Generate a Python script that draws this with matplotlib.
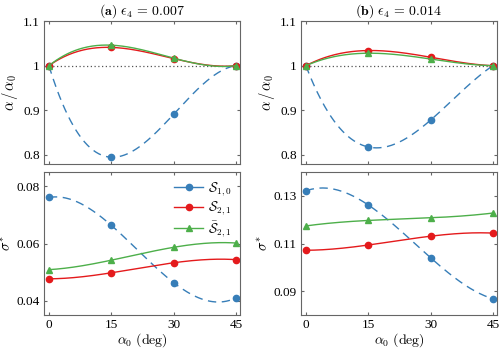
import numpy as np
import matplotlib
matplotlib.use('Agg')
import matplotlib.pyplot as plt

plt.rcParams['font.family'] = ['Liberation Serif', 'DejaVu Serif']
plt.rcParams['mathtext.fontset'] = 'cm'
plt.rcParams['font.size'] = 9.5

alpha0 = [0, 15, 30, 45]

# (a) eps4 = 0.007
ratio_s10_a = [1.0, 0.795, 0.891, 1.0]
ratio_s21_a = [1.0, 1.041, 1.016, 1.0]
ratio_sb21_a = [1.0, 1.046, 1.017, 1.0]
sig_s10_a = [0.0761, 0.0664, 0.0464, 0.0410]
sig_s21_a = [0.0477, 0.0498, 0.0533, 0.0544]
sig_sb21_a = [0.0509, 0.0542, 0.0587, 0.0602]

# (b) eps4 = 0.014
ratio_s10_b = [1.0, 0.818, 0.878, 1.0]
ratio_s21_b = [1.0, 1.034, 1.019, 1.0]
ratio_sb21_b = [1.0, 1.028, 1.015, 1.0]
sig_s10_b = [0.1321, 0.1262, 0.1041, 0.0869]
sig_s21_b = [0.1072, 0.1094, 0.1131, 0.1144]
sig_sb21_b = [0.1174, 0.1197, 0.1208, 0.1228]

titles = [r'$\mathbf{(a)}\ \epsilon_4\,=\,0.007$', r'$\mathbf{(b)}\ \epsilon_4\,=\,0.014$']
labels = [r'$\mathcal{S}_{1,0}$', r'$\mathcal{S}_{2,1}$', r'$\bar{\mathcal{S}}_{2,1}$']

BLUE = '#377EB8'
RED = '#E41A1C'
GREEN = '#4DAF4A'
AXC = '#666666'


def curve(ax, y, color, ls, marker, label=None):
    c = np.polyfit(alpha0, y, 3)
    xs = np.linspace(0, 45, 200)
    ax.plot(xs, np.polyval(c, xs), color=color, ls=ls, lw=1.0,
            dashes=(6, 4) if ls == '--' else (None, None))
    ax.plot(alpha0, y, color=color, ls='none', marker=marker, ms=4.5)
    if label:
        ax.plot([], [], color=color, marker=marker, ms=4.5, lw=1.0, label=label)


def style(ax):
    for s in ax.spines.values():
        s.set_color(AXC)
        s.set_linewidth(0.8)
    ax.tick_params(direction='in', top=True, right=True, length=2.5,
                   color=AXC, labelsize=9.5, pad=3)
    ax.set_xlim(-1.2, 46)
    ax.set_xticks(alpha0)


fig = plt.figure(figsize=(4.99, 3.51), dpi=100)
lefts = [0.088, 0.603]
w = 0.393
data = [
    (ratio_s10_a, ratio_s21_a, ratio_sb21_a, sig_s10_a, sig_s21_a, sig_sb21_a,
     (0.035, 0.085), [0.04, 0.06, 0.08]),
    (ratio_s10_b, ratio_s21_b, ratio_sb21_b, sig_s10_b, sig_s21_b, sig_sb21_b,
     (0.08, 0.14), [0.09, 0.11, 0.13]),
]

for i, (r10, r21, rb21, s10, s21, sb21, ylim, yt) in enumerate(data):
    ax1 = fig.add_axes([lefts[i], 0.533, w, 0.407])
    ax2 = fig.add_axes([lefts[i], 0.102, w, 0.408])

    ax1.plot([0, 45], [1, 1], color='#555555', ls=(0, (1, 2)), lw=0.9)
    curve(ax1, r10, BLUE, '--', 'o')
    curve(ax1, r21, RED, '-', 'o')
    curve(ax1, rb21, GREEN, '-', '^')
    style(ax1)
    ax1.set_ylim(0.78, 1.1)
    ax1.set_yticks([0.8, 0.9, 1.0, 1.1])
    ax1.set_yticklabels(['0.8', '0.9', '1', '1.1'])
    ax1.set_xticklabels([])
    ax1.set_ylabel(r'$\alpha\,/\,\alpha_0$', fontsize=10.5, labelpad=2)
    ax1.set_title(titles[i], fontsize=10, pad=5)

    lab = labels if i == 0 else [None, None, None]
    curve(ax2, s10, BLUE, '--', 'o', lab[0])
    curve(ax2, s21, RED, '-', 'o', lab[1])
    curve(ax2, sb21, GREEN, '-', '^', lab[2])
    style(ax2)
    ax2.set_ylim(*ylim)
    ax2.set_yticks(yt)
    ax2.set_yticklabels(['%.2f' % v for v in yt])
    ax2.set_ylabel(r'$\sigma^{*}$', fontsize=10.5, labelpad=2)
    ax2.set_xlabel(r'$\alpha_0\ \mathrm{(deg)}$', fontsize=10, labelpad=0)
    if i == 0:
        ax2.legend(loc='upper right', frameon=False, fontsize=9.5,
                   handlelength=2.2, labelspacing=0.15, borderaxespad=0.2,
                   handletextpad=0.4)

fig.savefig('out.png', dpi=100)
